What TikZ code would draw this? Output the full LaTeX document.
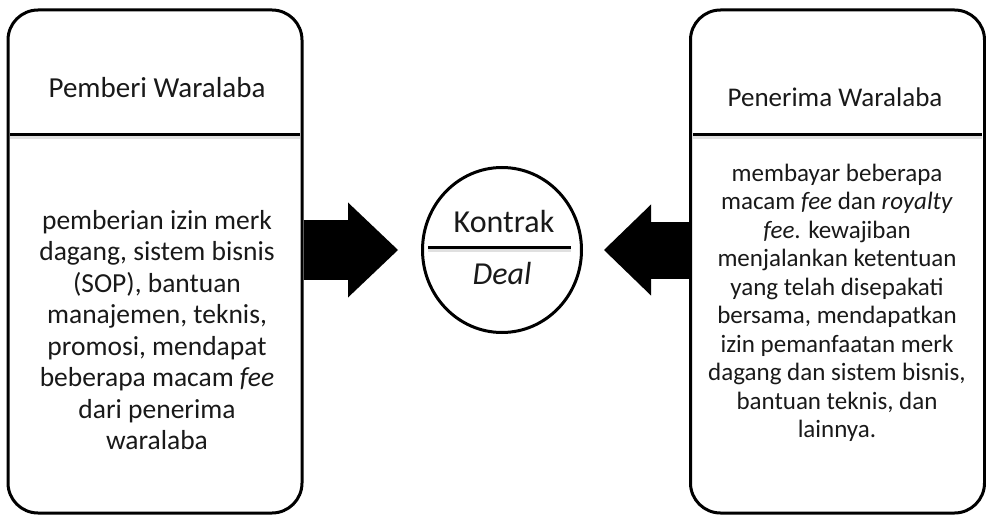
\documentclass[tikz,border=0pt]{standalone}
\usepackage{fontspec}
\setmainfont{Carlito}
\usetikzlibrary{arrows.meta,shapes.geometric}
\tikzset{
  panel/.style={draw, line width=3pt, rounded corners=30pt, minimum width=294pt, minimum height=503pt, inner sep=0pt},
  divline/.style={line width=3pt},
  divshadow/.style={line width=3pt, draw=black!12},
  headtxt/.style={font=\fontsize{27}{31}\selectfont, text=black!90},
  bodyL/.style={font=\fontsize{27.5}{31.5}\selectfont, align=center, text=black!90},
  bodyR/.style={font=\fontsize{25}{28.5}\selectfont, align=center, text=black!90},
  dealtxt/.style={font=\fontsize{32}{36}\selectfont, text=black!90},
  bigarrowL/.style={line width=60pt, -{Triangle[length=50pt,width=95pt,line width=0pt]}},
  bigarrowR/.style={line width=57pt, -{Triangle[length=47pt,width=91pt,line width=0pt]}}
}
\begin{document}
\begin{tikzpicture}[x=1pt,y=-1pt]
\useasboundingbox (0,0) rectangle (986,516);
% panels
\node[panel] (L) at (155,261.5) {};
\node[panel] (R) at (837.5,261.5) {};
\coordinate (LdA) at (10,135);
\coordinate (LdB) at (300,135);
\coordinate (RdA) at (693,135);
\coordinate (RdB) at (982,135);
\draw[divshadow] ([yshift=-3pt]LdA) -- ([yshift=-3pt]LdB);
\draw[divshadow] ([yshift=-3pt]RdA) -- ([yshift=-3pt]RdB);
\draw[divline] (LdA) -- (LdB);
\draw[divline] (RdA) -- (RdB);
% headers
\node[headtxt, font=\fontsize{29}{33}\selectfont] (Lh) at (157,88) {Pemberi Waralaba};
\node[headtxt] (Rh) at (835,97) {Penerima Waralaba};
% bodies
\node[bodyL] (Lb) at (157,330) {pemberian izin merk\\dagang, sistem bisnis\\(SOP), bantuan\\manajemen, teknis,\\promosi, mendapat\\beberapa macam \textit{fee}\\dari penerima\\waralaba};
\node[bodyR] (Rb) at (837,303) {membayar beberapa\\macam \textit{fee} dan \textit{royalty}\\\textit{fee}. kewajiban\\menjalankan ketentuan\\yang telah disepakati\\bersama, mendapatkan\\izin pemanfaatan merk\\dagang dan sistem bisnis,\\bantuan teknis, dan\\lainnya.};
% circle
\node[draw, ellipse, line width=3pt, minimum width=159pt, minimum height=165pt, inner sep=0pt] (C) at (502,250) {};
\coordinate (CdA) at (428,247);
\coordinate (CdB) at (571,247);
\draw[divshadow] ([yshift=-3pt]CdA) -- ([yshift=-3pt]CdB);
\draw[divline] (CdA) -- (CdB);
\node[dealtxt] (K) at (504,222) {Kontrak};
\node[dealtxt] (D) at (502,273) {\textit{Deal}};
% arrows
\draw[bigarrowL, shorten >=23pt] (L.east |- C) -- (C.west);
\draw[bigarrowR, shorten >=21pt] (R.west |- C) -- (C.east);
\end{tikzpicture}
\end{document}
